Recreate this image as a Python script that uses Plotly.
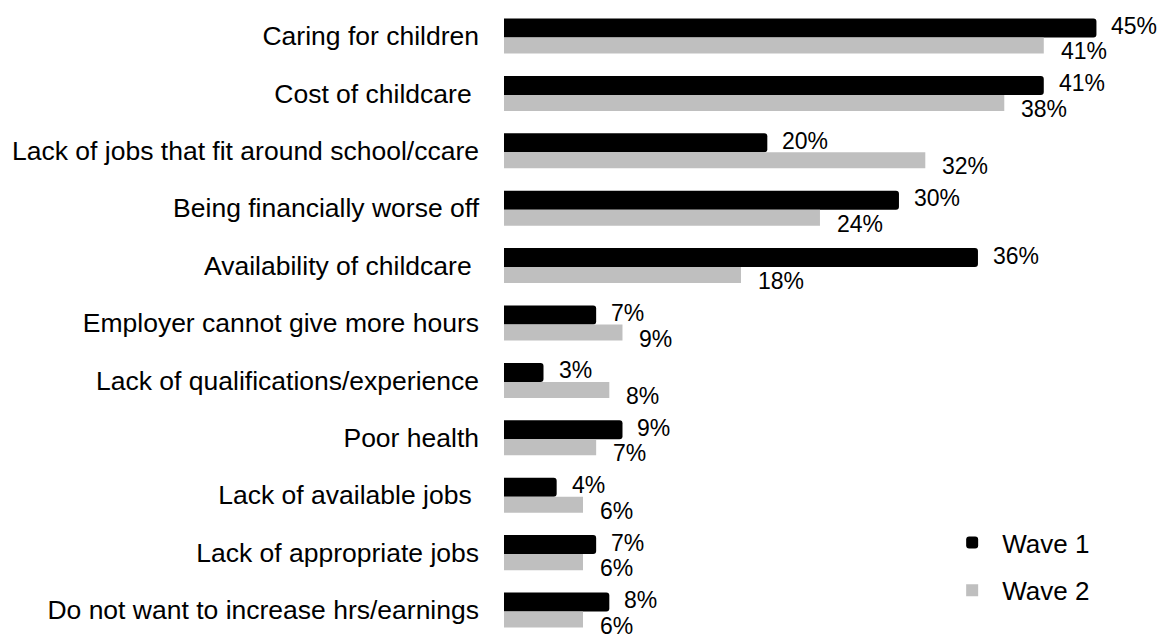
import plotly.graph_objects as go

# Reasons given, top to bottom
categories = [
    "Caring for children",
    "Cost of childcare\u00a0",
    "Lack of jobs that fit around school/ccare",
    "Being financially worse off",
    "Availability of childcare\u00a0",
    "Employer cannot give more hours",
    "Lack of qualifications/experience",
    "Poor health",
    "Lack of available jobs\u00a0",
    "Lack of appropriate jobs",
    "Do not want to increase hrs/earnings",
]
wave1 = [45, 41, 20, 30, 36, 7, 3, 9, 4, 7, 8]
wave2 = [41, 38, 32, 24, 18, 9, 8, 7, 6, 6, 6]
series_names = ["Wave 1", "Wave 2"]

BLACK = "#000000"
GREY = "#BFBFBF"
FONT = "Liberation Sans, Arial, sans-serif"

positions = list(range(len(categories)))

# bar geometry in category units (each category slot is 1.0 tall)
w1_offset, w1_width = -0.305, 0.331
w2_offset, w2_width = 0.026, 0.279

fig = go.Figure()
fig.add_trace(go.Bar(
    y=positions, x=wave1, orientation="h", name=series_names[0],
    legendgroup="w1",
    marker=dict(color=BLACK, line=dict(width=0), cornerradius=3),
    offset=w1_offset, width=w1_width,
))
fig.add_trace(go.Bar(
    y=positions, x=wave2, orientation="h", name=series_names[1],
    legendgroup="w2",
    marker=dict(color=GREY, line=dict(width=0)),
    offset=w2_offset, width=w2_width,
))

annotations = []
for i, (a, b) in enumerate(zip(wave1, wave2)):
    annotations.append(dict(
        x=a, y=i + w1_offset + w1_width / 2, text=f"{a}%", showarrow=False,
        xanchor="left", yanchor="middle", xshift=13, yshift=2,
        font=dict(family=FONT, size=23, color="#000000"),
    ))
    annotations.append(dict(
        x=b, y=i + w2_offset + w2_width / 2, text=f"{b}%", showarrow=False,
        xanchor="left", yanchor="middle", xshift=15, yshift=-6,
        font=dict(family=FONT, size=23, color="#000000"),
    ))

fig.update_layout(
    width=1157, height=637,
    margin=dict(l=504, r=0, t=0, b=0),
    paper_bgcolor="white", plot_bgcolor="white",
    barmode="overlay",
    annotations=annotations,
    font=dict(family=FONT, color="#000000"),
    legend=dict(
        x=0.671, y=0.185, xanchor="left", yanchor="top",
        font=dict(family=FONT, size=26, color="#000000"),
        traceorder="grouped", tracegroupgap=11, itemwidth=50,
        bgcolor="rgba(0,0,0,0)",
    ),
    xaxis=dict(
        range=[0, 49.6], showgrid=False, zeroline=False,
        showticklabels=False, showline=False, fixedrange=True,
    ),
    yaxis=dict(
        range=[10.47, -0.627], tickmode="array", tickvals=positions,
        ticktext=categories, showgrid=False, zeroline=False, showline=False,
        ticks="", ticklabelstandoff=24,
        tickfont=dict(family=FONT, size=26.5, color="#000000"),
    ),
)

fig.write_html("out.html")
